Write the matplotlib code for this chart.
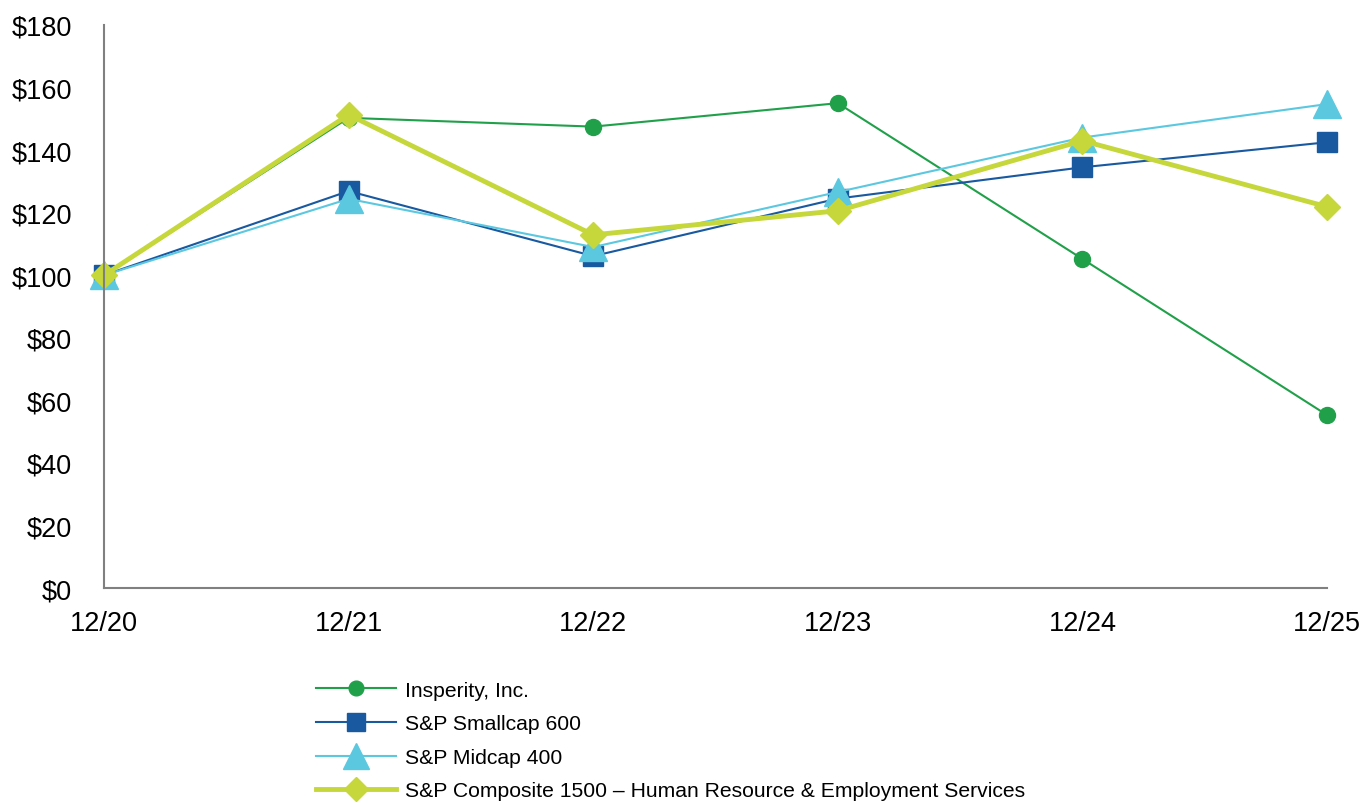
import matplotlib.pyplot as plt
from matplotlib.ticker import FuncFormatter

plt.rcParams['font.family'] = ['Liberation Sans', 'DejaVu Sans']

# Year-end labels and cumulative total return values ($100 base)
periods = ['12/20', '12/21', '12/22', '12/23', '12/24', '12/25']
insperity = [100, 150.3, 147.5, 155.0, 105.2, 55.3]
smallcap = [100, 126.9, 106.1, 124.5, 134.5, 142.5]
midcap = [100, 124.4, 109.0, 126.6, 144.0, 154.7]
composite = [100, 151.3, 112.9, 120.6, 143.0, 121.9]

x = range(len(periods))

fig = plt.figure(figsize=(13.62, 8.04), dpi=100)
ax = fig.add_axes([0.0764, 0.2674, 0.8979, 0.7003])

ax.plot(x, insperity, color='#21A04A', lw=1.5, marker='o', ms=11.5,
        label='Insperity, Inc.', clip_on=False)
ax.plot(x, smallcap, color='#1859A0', lw=1.5, marker='s', ms=14,
        label='S&P Smallcap 600', clip_on=False)
ax.plot(x, midcap, color='#5BC8E0', lw=1.5, marker='^', ms=20,
        label='S&P Midcap 400', clip_on=False)
ax.plot(x, composite, color='#C5D73A', lw=3.5, marker='D', ms=13,
        label='S&P Composite 1500 \u2013 Human Resource & Employment Services',
        clip_on=False)

ax.set_xlim(0, 5)
ax.set_ylim(0, 180)
ax.set_yticks(range(0, 181, 20))
ax.yaxis.set_major_formatter(FuncFormatter(lambda v, p: f'${v:.0f}'))
ax.set_xticks(list(x))
ax.set_xticklabels(periods)
ax.tick_params(length=0, labelsize=19.5, colors='black')
ax.tick_params(axis='y', pad=23)
ax.tick_params(axis='x', pad=16)

for s in ['top', 'right']:
    ax.spines[s].set_visible(False)
for s in ['left', 'bottom']:
    ax.spines[s].set_color('#808080')
    ax.spines[s].set_linewidth(1.5)

fig.legend(loc='upper left', bbox_to_anchor=(0.232, 0.152), frameon=False,
           fontsize=15.2, handlelength=3.8, labelspacing=0.69, handletextpad=0.42,
           borderaxespad=0, borderpad=0, markerscale=0.92)

fig.savefig('out.png', dpi=100)
